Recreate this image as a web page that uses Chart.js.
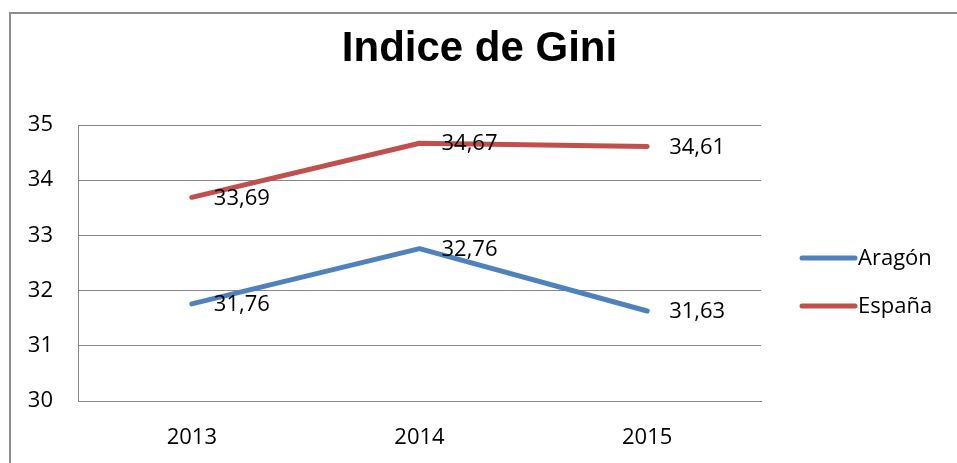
<!DOCTYPE html>
<html>
<head>
<meta charset="utf-8">
<title>Indice de Gini</title>
<script src="https://cdn.jsdelivr.net/npm/chart.js@4.4.1/dist/chart.umd.min.js"></script>
<style>
    html, body { margin: 0; padding: 0; background: #fff; }
    #wrap { width: 957px; height: 463px; }
</style>
</head>
<body>
<div id="wrap"><canvas id="gini" width="957" height="463"></canvas></div>
<script>
// Datos del gráfico
const years = ['2013', '2014', '2015'];
const aragon = [31.76, 32.76, 31.63];
const espana = [33.69, 34.67, 34.61];
const seriesNames = ['Aragón', 'España'];
const seriesColors = ['#4F81BD', '#C0504D'];
const chartTitle = 'Indice de Gini';
const yMin = 30;
const yMax = 35;

const smallFont = { family: "'Open Sans', sans-serif", size: 22 };
const textColor = '#000';

function fmt(v) {
    return v.toFixed(2).replace('.', ',');
}

// Marco exterior y título centrado en todo el lienzo (estilo Excel)
const framePlugin = {
    id: 'frame',
    beforeDraw(chart) {
        const ctx = chart.ctx;
        ctx.save();
        ctx.strokeStyle = '#8d8d8d';
        ctx.lineWidth = 2;
        ctx.beginPath();
        ctx.moveTo(10, chart.height);
        ctx.lineTo(10, 13);
        ctx.lineTo(chart.width, 13);
        ctx.stroke();

        ctx.font = "bold 42px 'Liberation Sans', Arial, sans-serif";
        ctx.fillStyle = textColor;
        ctx.textAlign = 'center';
        ctx.textBaseline = 'middle';
        ctx.fillText(chartTitle, chart.width / 2 + 1, 49);
        ctx.restore();
    }
};

// Etiquetas de datos a la derecha de cada punto
const labelsPlugin = {
    id: 'pointLabels',
    afterDatasetsDraw(chart) {
        const ctx = chart.ctx;
        ctx.save();
        ctx.font = smallFont.size + 'px ' + smallFont.family;
        ctx.fillStyle = textColor;
        ctx.textAlign = 'left';
        ctx.textBaseline = 'middle';
        chart.data.datasets.forEach((ds, i) => {
            const meta = chart.getDatasetMeta(i);
            meta.data.forEach((pt, j) => {
                ctx.fillText(fmt(ds.data[j]), pt.x + 22, pt.y + 1);
            });
        });
        ctx.restore();
    }
};

// Leyenda a la derecha
const legendPlugin = {
    id: 'sideLegend',
    afterDraw(chart) {
        const ctx = chart.ctx;
        const x0 = chart.chartArea.right + 39;
        ctx.save();
        ctx.font = smallFont.size + 'px ' + smallFont.family;
        ctx.textBaseline = 'middle';
        ctx.textAlign = 'left';
        chart.data.datasets.forEach((ds, i) => {
            const y = 258 + i * 48;
            ctx.strokeStyle = ds.borderColor;
            ctx.lineWidth = 5;
            ctx.lineCap = 'round';
            ctx.beginPath();
            ctx.moveTo(x0 + 2, y);
            ctx.lineTo(x0 + 55, y);
            ctx.stroke();
            ctx.fillStyle = textColor;
            ctx.fillText(ds.label, x0 + 58, y + 1);
        });
        ctx.restore();
    }
};

const datasets = [aragon, espana].map((vals, i) => ({
    label: seriesNames[i],
    data: vals,
    borderColor: seriesColors[i],
    backgroundColor: seriesColors[i],
    borderWidth: 5,
    borderCapStyle: 'round',
    borderJoinStyle: 'round',
    pointRadius: 0,
    tension: 0,
    fill: false
}));

new Chart(document.getElementById('gini').getContext('2d'), {
    type: 'line',
    data: { labels: years, datasets: datasets },
    options: {
        responsive: false,
        animation: false,
        layout: { padding: { top: 125, right: 196, bottom: 0, left: 0 } },
        plugins: {
            legend: { display: false },
            tooltip: { enabled: false },
            title: { display: false }
        },
        scales: {
            x: {
                offset: true,
                grid: { display: false, drawTicks: false },
                border: { display: true, color: '#868686', width: 1 },
                ticks: { color: textColor, font: smallFont, padding: 24 },
                afterFit(scale) { scale.height = 62; }
            },
            y: {
                min: yMin,
                max: yMax,
                ticks: { stepSize: 1, color: textColor, font: smallFont, padding: 25 },
                grid: { color: '#868686', lineWidth: 1, drawTicks: false },
                border: { display: true, color: '#868686', width: 1 },
                afterFit(scale) { scale.width = 78; }
            }
        }
    },
    plugins: [framePlugin, labelsPlugin, legendPlugin]
});
</script>
</body>
</html>
